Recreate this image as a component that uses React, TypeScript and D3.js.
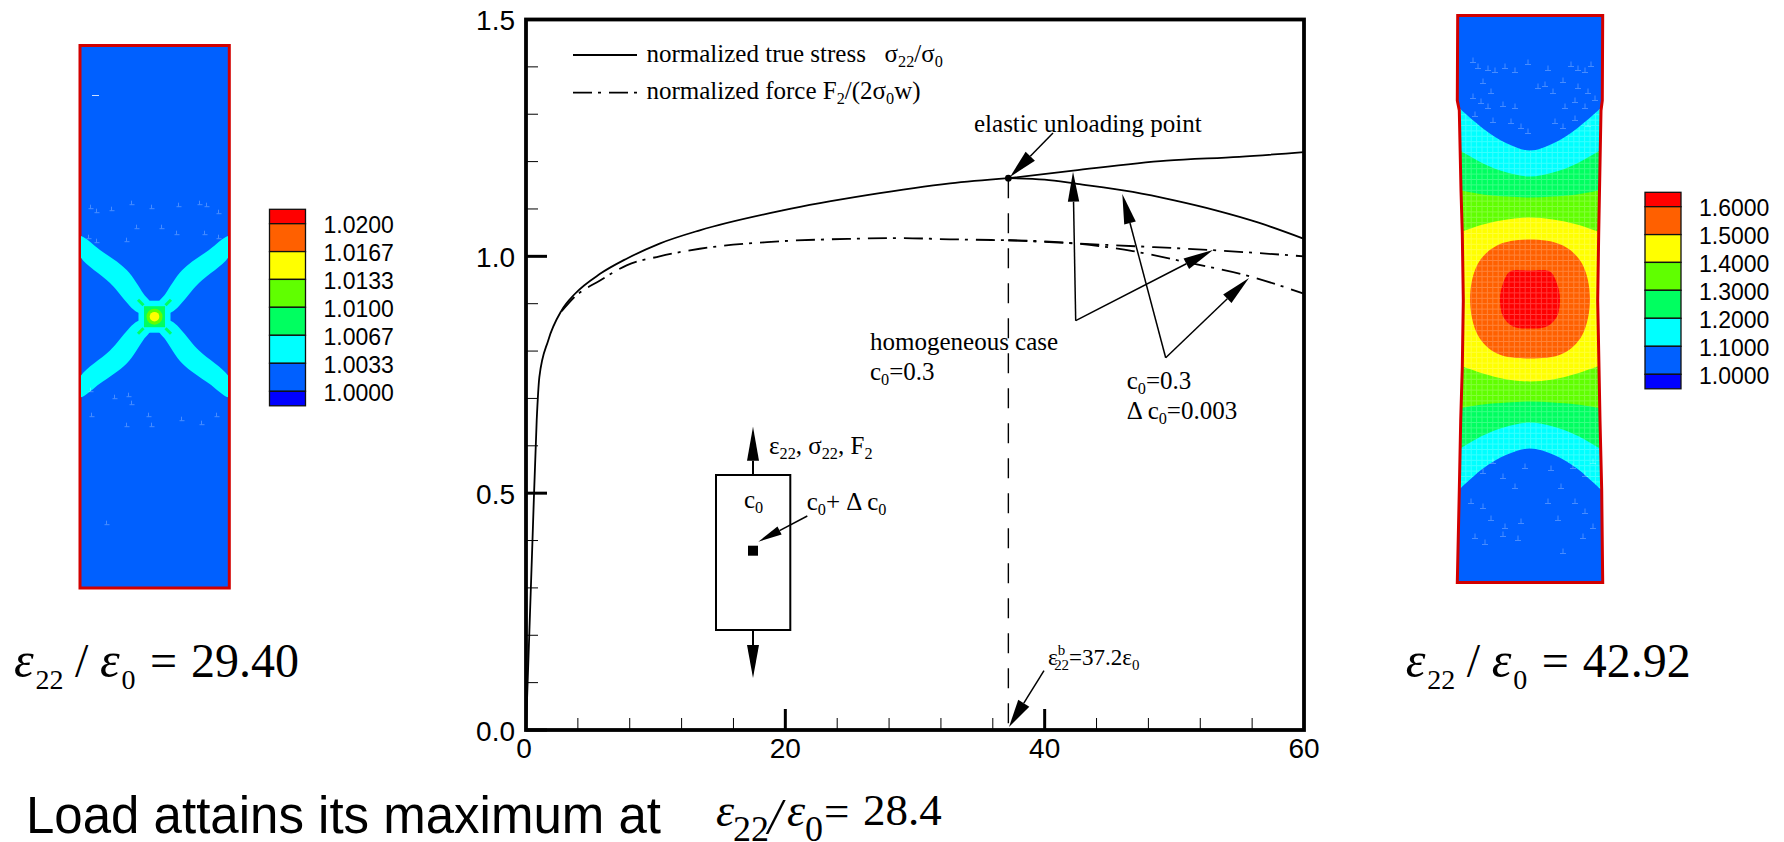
import React from "react";
import * as d3 from "d3";

// ---- main chart data ----
const stressX = [0, 0.5, 0.825, 1.03, 1.72, 2.75, 3.78, 5.71, 7.76, 10.3, 13.4, 19.8, 26.3, 32.7, 37.2];
const stressY = [0, 0.4, 0.654, 0.745, 0.823, 0.886, 0.921, 0.963, 0.995, 1.027, 1.055, 1.097, 1.129, 1.154, 1.165];
const stressHomogX = [37.2, 42.2, 49.4, 55, 60];
const stressHomogY = [1.165, 1.181, 1.202, 1.21, 1.22];
const stressLocalX = [37.2, 40, 42.5, 46.8, 50, 53.2, 56.5, 60];
const stressLocalY = [1.165, 1.162, 1.153, 1.136, 1.118, 1.097, 1.071, 1.037];
const forceX = [0, 0.5, 0.825, 1.03, 1.72, 2.75, 3.78, 5.71, 7.76, 10.3, 13.4, 18.6, 25, 28.8, 32.7, 37.2];
const forceY = [0, 0.4, 0.654, 0.745, 0.823, 0.884, 0.915, 0.949, 0.981, 1.0, 1.016, 1.03, 1.037, 1.0385, 1.036, 1.034];
const forceHomogX = [37.2, 42.5, 48, 53, 60];
const forceHomogY = [1.034, 1.027, 1.02, 1.013, 1.0];
const forceLocalX = [37.2, 42.5, 46.8, 51, 55.8, 60];
const forceLocalY = [1.034, 1.027, 1.011, 0.987, 0.958, 0.921];
const xMajor = [0, 20, 40, 60];
const xMinor = [4, 8, 12, 16, 24, 28, 32, 36, 44, 48, 52, 56];
const yMajor = [0, 0.5, 1, 1.5];
const yMinor = [0.1, 0.2, 0.3, 0.4, 0.6, 0.7, 0.8, 0.9, 1.1, 1.2, 1.3, 1.4];
const unloadX = 37.2;
const unloadY = 1.165;

// ---- contour legends ----
const contourColors = ["#ff0000", "#ff6000", "#ffff00", "#60ff00", "#00ff60", "#00ffff", "#0060ff", "#0000ff"];
const leftLabels = ["1.0200", "1.0167", "1.0133", "1.0100", "1.0067", "1.0033", "1.0000"];
const rightLabels = ["1.6000", "1.5000", "1.4000", "1.3000", "1.2000", "1.1000", "1.0000"];

// ---- left contour field (offsets from the specimen centre) ----
const armU = [-75, -54.5, -27.8, -11, -4, -14.5, -44.5, -75];
const armV = [-80.5, -66.7, -46.7, -23, -13, -3.7, -33.7, -61.5];
const leftFragments = [[-66, -108], [-60, -104], [-45, -106], [-25, -112], [-5, -108], [22, -110], [43, -112], [50, -110], [62, -103], [-68, -78], [-60, -74], [-30, -75], [-20, -88], [5, -88], [20, -82], [48, -82], [62, -78], [-66, 75], [-42, 82], [-25, 88], [-8, 100], [25, 104], [45, 108], [-65, 100], [60, 100], [-30, 110], [-5, 110], [-50, 208], [-28, 80]];

// ---- right contour field (offsets from the specimen centre) ----
const bandU = [-78, -47, -23, 0, 23, 47, 78];
const bandA = [-197, -170, -155, -148, -155, -170, -197];
const bandAb = [198, 170, 156, 150, 156, 170, 198];
const bandB = [-153, -135, -126, -122, -126, -135, -153];
const bandBb = [155, 137, 128, 124, 128, 137, 155];
const bandC = [-110, -104, -102, -101, -102, -104, -110];
const bandCb = [111, 106, 104, 103, 104, 106, 111];
const bandD = [-63, -74, -79, -81, -79, -74, -63];
const bandDb = [64, 75, 81, 83, 81, 75, 64];
const orangeU = [0, 33, 52, 60, 52, 33, 0, -33, -52, -60, -52, -33];
const orangeV = [-59, -53, -35, 0, 37, 55, 60, 55, 37, 0, -35, -53];
const redU = [0, 20, 27, 30, 27, 17, 0, -17, -27, -30, -27, -20];
const redV = [-28, -27, -15, 0, 18, 28, 30, 28, 18, 0, -15, -27];
const outlineV = [-283, -198, -188, -108, -65, 2, 69, 122, 192, 284];
const outlineLeft = [-72.3, -72.7, -70.7, -69, -67.7, -66.7, -67.7, -69.3, -70.7, -72.7];
const outlineRight = [72.7, 72.3, 71, 69.5, 68.7, 67.7, 69, 70, 71.7, 72.7];
const rightFragments = [[-60, -236], [-55, -230], [-45, -228], [-38, -226], [-28, -230], [-18, -226], [-5, -234], [15, -228], [38, -232], [45, -228], [52, -226], [58, -232], [-50, -215], [-42, -205], [5, -210], [12, -212], [20, -205], [30, -216], [45, -210], [55, -205], [-60, -200], [-52, -195], [-45, -190], [-30, -192], [-18, -190], [32, -190], [42, -196], [52, -190], [62, -198], [-58, -182], [-40, -176], [-22, -175], [-12, -170], [-5, -165], [22, -175], [30, -170], [42, -178], [55, -172], [-50, 175], [-40, 165], [-30, 180], [-18, 190], [-8, 170], [18, 172], [28, 190], [40, 170], [52, 178], [60, 165], [-62, 205], [-50, 210], [-42, 222], [-28, 230], [-12, 225], [15, 205], [25, 222], [42, 205], [52, 215], [60, 230], [-58, 240], [-48, 246], [-30, 238], [-15, 242], [30, 255], [50, 240]];

// ---- scales ----
const x = d3.scaleLinear().domain([0, 60]).range([526, 1304]);
const y = d3.scaleLinear().domain([0, 1.5]).range([730, 19.5]);
const leftCx = d3.scaleLinear().domain([0, 1]).range([154.5, 155.5]);
const leftCy = d3.scaleLinear().domain([0, 1]).range([316.7, 317.7]);
const rightCx = d3.scaleLinear().domain([0, 1]).range([1530, 1531]);
const rightCy = d3.scaleLinear().domain([0, 1]).range([298.5, 299.5]);

const curvePath = (xs: number[], ys: number[]) =>
  d3.line<number>().x((d) => x(xs[d])).y((d) => y(ys[d])).curve(d3.curveMonotoneX)(d3.range(xs.length)) as string;
const blobPath = (us: number[], vs: number[]) =>
  d3.line<number>().x((d) => rightCx(us[d])).y((d) => rightCy(vs[d])).curve(d3.curveCatmullRomClosed.alpha(0.5))(d3.range(us.length)) as string;
const bandPath = (top: number[], bottom: number[]) =>
  d3.area<number>().x((d) => rightCx(bandU[d])).y0((d) => rightCy(top[d])).y1((d) => rightCy(bottom[d])).curve(d3.curveCatmullRom.alpha(0.5))(d3.range(bandU.length)) as string;
const outlinePath = () => {
  const pts: [number, number][] = [
    ...outlineV.map((v, i) => [rightCx(outlineLeft[i]), rightCy(v)] as [number, number]),
    ...outlineV.map((v, i) => [rightCx(outlineRight[i]), rightCy(v)] as [number, number]).reverse(),
  ];
  return d3.line().curve(d3.curveLinearClosed)(pts) as string;
};

const SERIF = "'Liberation Serif', 'Times New Roman', serif";
const SANS = "'Liberation Sans', Arial, sans-serif";
const DASHDOT = "19 6 3 8";

type Seg = { t: string; s?: "sub" | "sup"; back?: number; style?: "italic" };
function Rich({ x: tx, y: ty, size, subSize, segs }: { x: number; y: number; size: number; subSize?: number; segs: Seg[] }) {
  const sub = subSize ?? size * 0.65;
  const drop = size * 0.2;
  let cur = 0;
  return (
    <text x={tx} y={ty} fontFamily={SERIF} fontSize={size} fill="#000" xmlSpace="preserve">
      {segs.map((seg, i) => {
        const target = seg.s === "sub" ? drop : seg.s === "sup" ? -size * 0.42 : 0;
        const dy = target - cur;
        cur = target;
        return (
          <tspan key={i} dy={dy} dx={seg.back ? -seg.back : undefined} fontSize={seg.s ? sub : size} fontStyle={seg.style}>
            {seg.t}
          </tspan>
        );
      })}
    </text>
  );
}

function Arrow({ x1, y1, x2, y2, len = 30, hw = 6, sw = 1.5 }: { x1: number; y1: number; x2: number; y2: number; len?: number; hw?: number; sw?: number }) {
  const L = Math.hypot(x2 - x1, y2 - y1);
  const ux = (x2 - x1) / L;
  const uy = (y2 - y1) / L;
  const bx = x2 - ux * len;
  const by = y2 - uy * len;
  const pts = [[x2, y2], [bx - uy * hw, by + ux * hw], [bx + uy * hw, by - ux * hw]].map((p) => p.join(",")).join(" ");
  return (
    <g>
      <line x1={x1} y1={y1} x2={bx} y2={by} stroke="#000" strokeWidth={sw} />
      <polygon points={pts} fill="#000" />
    </g>
  );
}

function Legend({ left, top, labels, labelX }: { left: number; top: number; labels: string[]; labelX: number }) {
  const edges = [0, 14.4, 42.3, 70.1, 98, 126, 154, 182, 196.5];
  return (
    <g>
      {contourColors.map((c, i) => (
        <rect key={c} x={left} y={top + edges[i]} width={36} height={edges[i + 1] - edges[i]} fill={c} stroke="#111" strokeWidth={1.3} />
      ))}
      {labels.map((l, i) => (
        <text key={l} x={labelX} y={top + 24 + i * 27.95} fontFamily={SANS} fontSize={23} fill="#000">{l}</text>
      ))}
    </g>
  );
}

function StrainLabel({ dx, value }: { dx: number; value: string }) {
  return (
    <g fontFamily={SERIF} fill="#000">
      <text x={dx + 14} y={676.7} fontSize={50} fontStyle="italic">ε</text>
      <text x={dx + 35.5} y={688.7} fontSize={28}>22</text>
      <text x={dx + 75} y={676.7} fontSize={48}>/</text>
      <text x={dx + 100} y={676.7} fontSize={50} fontStyle="italic">ε</text>
      <text x={dx + 121.5} y={688.7} fontSize={28}>0</text>
      <text x={dx + 150} y={676.7} fontSize={48}>=</text>
      <text x={dx + 191} y={676.7} fontSize={48}>{value}</text>
    </g>
  );
}

export default function App() {
  const gridX = d3.range(-75, 76, 5.4);
  const gridY = d3.range(-200, 201, 5.4);
  return (
    <svg width={1784} height={842} viewBox="0 0 1784 842" style={{ position: "absolute", left: 0, top: 0, display: "block", background: "#fff" }}>
      <defs>
        <clipPath id="rightBody"><path d={outlinePath()} /></clipPath>
        <clipPath id="rightGrid"><path d={bandPath(bandA, bandAb)} /></clipPath>
        <clipPath id="leftBody"><rect x={81} y={45} width={147} height={543} /></clipPath>
      </defs>

      {/* left specimen */}
      <g>
        <rect x={80} y={45.5} width={149.3} height={542.5} fill="#0060ff" stroke="#d20000" strokeWidth={3} />
        <g clipPath="url(#leftBody)">
          {[[1, 1], [-1, 1], [1, -1], [-1, -1]].map(([sx, sy]) => (
            <path
              key={`${sx}${sy}`}
              d={d3.line<number>().x((d) => leftCx(sx * armU[d])).y((d) => leftCy(sy * armV[d])).curve(d3.curveCatmullRomClosed.alpha(0.5))(d3.range(armU.length)) as string}
              fill="#00ffff"
            />
          ))}
          <rect x={leftCx(-16)} y={leftCy(-16)} width={32} height={32} fill="#00ffff" />
          {[[1, 1], [-1, 1], [1, -1], [-1, -1]].map(([sx, sy]) => (
            <line key={`s${sx}${sy}`} x1={leftCx(sx * 16.5)} y1={leftCy(sy * 17)} x2={leftCx(sx * 11)} y2={leftCy(sy * 11.5)} stroke="#00ff60" strokeWidth={3} />
          ))}
          <rect x={leftCx(-10.5)} y={leftCy(-10.5)} width={21} height={21} fill="#00ff60" />
          <circle cx={leftCx(0)} cy={leftCy(0)} r={8} fill="#60ff00" />
          <circle cx={leftCx(0)} cy={leftCy(0)} r={4.8} fill="#ffff00" />
          {leftFragments.map(([u, v], i) => (
            <g key={i} stroke="#fff" strokeWidth={1} opacity={0.28}>
              <line x1={leftCx(u)} y1={leftCy(v)} x2={leftCx(u + 5)} y2={leftCy(v)} />
              <line x1={leftCx(u + 2)} y1={leftCy(v)} x2={leftCx(u + 2)} y2={leftCy(v - 4)} />
            </g>
          ))}
          <line x1={92} y1={95.5} x2={99} y2={95.5} stroke="#fff" strokeWidth={1} opacity={0.8} />
        </g>
      </g>
      <Legend left={269.5} top={209.3} labels={leftLabels} labelX={323.5} />
      <StrainLabel dx={0} value="29.40" />

      {/* right specimen */}
      <g clipPath="url(#rightBody)">
        <path d={outlinePath()} fill="#0060ff" />
        <path d={bandPath(bandA, bandAb)} fill="#00ffff" />
        <path d={bandPath(bandB, bandBb)} fill="#00ff60" />
        <path d={bandPath(bandC, bandCb)} fill="#60ff00" />
        <path d={bandPath(bandD, bandDb)} fill="#ffff00" />
        <path d={blobPath(orangeU, orangeV)} fill="#ff6000" />
        <path d={blobPath(redU, redV)} fill="#ff0000" />
        <g clipPath="url(#rightGrid)" stroke="#fff" strokeWidth={1} opacity={0.22}>
          {gridX.map((g) => <line key={`v${g}`} x1={rightCx(g)} x2={rightCx(g)} y1={rightCy(-200)} y2={rightCy(200)} />)}
          {gridY.map((g) => <line key={`h${g}`} x1={rightCx(-75)} x2={rightCx(75)} y1={rightCy(g)} y2={rightCy(g)} />)}
        </g>
        {rightFragments.map(([u, v], i) => (
          <g key={i} stroke="#fff" strokeWidth={1} opacity={0.28}>
            <line x1={rightCx(u)} y1={rightCy(v)} x2={rightCx(u + 6)} y2={rightCy(v)} />
            <line x1={rightCx(u + 3)} y1={rightCy(v)} x2={rightCx(u + 3)} y2={rightCy(v - 5)} />
          </g>
        ))}
      </g>
      <path d={outlinePath()} fill="none" stroke="#d20000" strokeWidth={3} />
      <Legend left={1645} top={192.3} labels={rightLabels} labelX={1699} />
      <StrainLabel dx={1391.7} value="42.92" />

      {/* main plot: curves */}
      <g fill="none" stroke="#000" strokeWidth={1.8}>
        <path d={curvePath(stressX, stressY)} />
        <path d={curvePath(stressHomogX, stressHomogY)} />
        <path d={curvePath(stressLocalX, stressLocalY)} />
        <path d={curvePath(forceX.slice(5), forceY.slice(5))} strokeDasharray={DASHDOT} />
        <path d={curvePath(forceHomogX, forceHomogY)} strokeDasharray={DASHDOT} />
        <path d={curvePath(forceLocalX, forceLocalY)} strokeDasharray={DASHDOT} />
      </g>
      <line x1={x(unloadX)} x2={x(unloadX)} y1={y(unloadY)} y2={y(0)} stroke="#000" strokeWidth={1.4} strokeDasharray="20 15" />
      <circle cx={x(unloadX)} cy={y(unloadY)} r={3.4} fill="#000" />

      {/* frame and ticks */}
      <rect x={x(0)} y={y(1.5)} width={x(60) - x(0)} height={y(0) - y(1.5)} fill="none" stroke="#000" strokeWidth={3.8} />
      {yMajor.map((t) => <line key={t} x1={x(0)} x2={x(0) + 21} y1={y(t)} y2={y(t)} stroke="#000" strokeWidth={3} />)}
      {yMinor.map((t) => <line key={t} x1={x(0)} x2={x(0) + 12} y1={y(t)} y2={y(t)} stroke="#000" strokeWidth={1} />)}
      {xMajor.slice(1, 3).map((t) => <line key={t} x1={x(t)} x2={x(t)} y1={y(0)} y2={y(0) - 21} stroke="#000" strokeWidth={3} />)}
      {xMinor.map((t) => <line key={t} x1={x(t)} x2={x(t)} y1={y(0)} y2={y(0) - 12} stroke="#000" strokeWidth={1} />)}
      {xMajor.map((t) => (
        <text key={t} x={x(t) - (t === 0 ? 2 : 0)} y={757.5} textAnchor="middle" fontFamily={SANS} fontSize={28} fill="#000">{d3.format("d")(t)}</text>
      ))}
      {yMajor.map((t) => (
        <text key={t} x={515} y={y(t) + 10.5} textAnchor="end" fontFamily={SANS} fontSize={28} fill="#000">{d3.format(".1f")(t)}</text>
      ))}

      {/* legend */}
      <line x1={573} x2={637} y1={55} y2={55} stroke="#000" strokeWidth={1.8} />
      <line x1={573} x2={640} y1={92.7} y2={92.7} stroke="#000" strokeWidth={1.8} strokeDasharray={DASHDOT} />
      <Rich x={646.5} y={61.7} size={25} segs={[{ t: "normalized true stress   σ" }, { t: "22", s: "sub" }, { t: "/σ" }, { t: "0", s: "sub" }]} />
      <Rich x={646.5} y={98.7} size={25} segs={[{ t: "normalized force F" }, { t: "2", s: "sub" }, { t: "/(2σ" }, { t: "0", s: "sub" }, { t: "w)" }]} />

      {/* annotations */}
      <Rich x={974} y={131.7} size={25} segs={[{ t: "elastic unloading point" }]} />
      <Arrow x1={1053} y1={133} x2={1010} y2={177} len={29} hw={6.5} />
      <Arrow x1={1075.7} y1={320.7} x2={1073} y2={171.7} len={30} hw={5.7} />
      <Arrow x1={1075.7} y1={320.7} x2={1213} y2={250} len={30} hw={6} />
      <Arrow x1={1165.7} y1={357.7} x2={1122.3} y2={194} len={30} hw={6} />
      <Arrow x1={1165.7} y1={357.7} x2={1249} y2={278} len={30} hw={6} />
      <Rich x={870} y={350} size={25} segs={[{ t: "homogeneous case" }]} />
      <Rich x={870} y={380} size={25} segs={[{ t: "c" }, { t: "0", s: "sub" }, { t: "=0.3" }]} />
      <Rich x={1126.7} y={389.3} size={25} segs={[{ t: "c" }, { t: "0", s: "sub" }, { t: "=0.3" }]} />
      <Rich x={1126.7} y={419.3} size={25} segs={[{ t: "Δ c" }, { t: "0", s: "sub" }, { t: "=0.003" }]} />

      {/* inset sketch */}
      <rect x={716} y={475} width={74.3} height={155} fill="none" stroke="#000" strokeWidth={2} />
      <Arrow x1={753} y1={475} x2={753} y2={426.7} len={34} hw={6} sw={2} />
      <Arrow x1={753} y1={630} x2={753} y2={678} len={33} hw={6} sw={2} />
      <rect x={748} y={545.7} width={10} height={10} fill="#000" />
      <Arrow x1={807.3} y1={516} x2={758.3} y2={541.7} len={24} hw={4.5} />
      <Rich x={744} y={508} size={25} segs={[{ t: "c" }, { t: "0", s: "sub" }]} />
      <Rich x={769} y={454} size={25} segs={[{ t: "ε" }, { t: "22", s: "sub" }, { t: ", σ" }, { t: "22", s: "sub" }, { t: ", F" }, { t: "2", s: "sub" }]} />
      <Rich x={806.7} y={510} size={25} segs={[{ t: "c" }, { t: "0", s: "sub" }, { t: "+ Δ c" }, { t: "0", s: "sub" }]} />
      <Rich x={1048} y={665} size={23} segs={[{ t: "ε" }, { t: "b", s: "sup" }, { t: "22", s: "sub", back: 11 }, { t: "=37.2ε" }, { t: "0", s: "sub" }]} />
      <Arrow x1={1044} y1={670.7} x2={1009} y2={727} len={28} hw={6.5} />

      {/* caption */}
      <text x={26} y={833} fontFamily={SANS} fontSize={51} fill="#000">Load attains its maximum at</text>
      <g fontFamily={SERIF} fill="#000">
        <text x={716} y={826} fontSize={46} fontStyle="italic">ε</text>
        <text x={733} y={841} fontSize={36}>22</text>
        <text x={768} y={833} fontSize={50} fontStyle="italic">/</text>
        <text x={787} y={826} fontSize={46} fontStyle="italic">ε</text>
        <text x={805} y={841} fontSize={36}>0</text>
        <text x={824} y={826} fontSize={45}>=</text>
        <text x={863} y={825} fontSize={45}>28.4</text>
      </g>
    </svg>
  );
}
